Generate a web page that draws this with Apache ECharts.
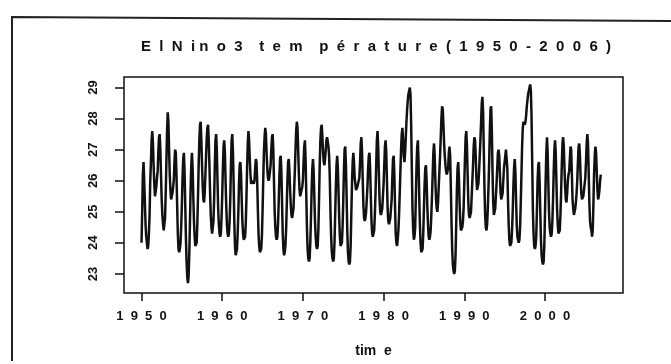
<!DOCTYPE html>
<html>
<head>
<meta charset="utf-8">
<script src="https://cdn.jsdelivr.net/npm/echarts@6/dist/echarts.min.js"></script>
<style>
  html, body { margin: 0; padding: 0; background: #fff; }
  #main { width: 671px; height: 364px; }
</style>
</head>
<body>
<div id="main"></div>
<script>
// monthly El Nino3 temperature, one row per year
var startYear = 1950;
var sst1950s = [
  24.0, 25.0, 26.2, 26.6, 26.0, 25.3, 24.6, 24.2, 24.0, 23.8, 23.9, 24.3,
  24.9, 26.0, 26.6, 27.3, 27.6, 27.2, 26.5, 25.9, 25.5, 25.5, 25.8, 26.1,
  26.3, 26.9, 27.4, 27.5, 27.0, 26.2, 25.4, 24.9, 24.6, 24.4, 24.4, 24.8,
  25.6, 26.6, 27.6, 28.2, 27.9, 27.0, 26.2, 25.7, 25.4, 25.5, 25.6, 25.8,
  26.0, 26.6, 27.0, 26.9, 26.2, 25.2, 24.3, 23.8, 23.7, 23.8, 24.0, 24.5,
  25.2, 26.1, 26.7, 26.9, 26.3, 25.3, 24.2, 23.4, 22.9, 22.7, 22.9, 23.6,
  24.6, 25.7, 26.5, 26.9, 26.4, 25.5, 24.7, 24.2, 23.9, 23.9, 24.0, 24.6,
  25.5, 26.5, 27.3, 27.8, 27.9, 27.3, 26.5, 25.8, 25.4, 25.3, 25.6, 26.2,
  26.8, 27.4, 27.7, 27.8, 27.3, 26.5, 25.6, 24.9, 24.5, 24.3, 24.3, 24.7,
  25.4, 26.5, 27.3, 27.5, 27.0, 26.0, 25.1, 24.6, 24.3, 24.2, 24.3, 24.8
];
var sst1960s = [
  25.5, 26.4, 27.1, 27.3, 26.9, 26.0, 25.2, 24.6, 24.3, 24.2, 24.3, 24.7,
  25.4, 26.5, 27.3, 27.5, 26.9, 25.9, 24.7, 23.9, 23.6, 23.6, 23.8, 24.3,
  25.0, 25.9, 26.5, 26.6, 26.2, 25.4, 24.7, 24.3, 24.1, 24.1, 24.2, 24.6,
  25.4, 26.4, 27.2, 27.6, 27.3, 26.7, 26.2, 25.9, 25.9, 26.0, 26.0, 25.9,
  26.0, 26.4, 26.7, 26.6, 26.0, 25.1, 24.3, 23.9, 23.7, 23.7, 23.8, 24.2,
  25.0, 26.0, 26.9, 27.4, 27.7, 27.5, 26.9, 26.4, 26.1, 26.0, 26.1, 26.3,
  26.5, 27.0, 27.4, 27.5, 27.0, 26.0, 25.0, 24.5, 24.2, 24.1, 24.2, 24.6,
  25.3, 26.1, 26.7, 26.8, 26.3, 25.3, 24.3, 23.8, 23.6, 23.7, 23.9, 24.4,
  25.2, 26.0, 26.6, 26.7, 26.3, 25.7, 25.2, 24.9, 24.8, 24.8, 25.1, 25.7,
  26.3, 27.0, 27.6, 27.9, 27.7, 27.0, 26.2, 25.7, 25.5, 25.6, 25.7, 25.8
];
var sst1970s = [
  26.0, 26.6, 27.1, 27.3, 26.7, 25.6, 24.5, 23.8, 23.5, 23.4, 23.5, 24.0,
  24.8, 25.7, 26.4, 26.7, 26.3, 25.5, 24.7, 24.2, 23.9, 23.8, 23.9, 24.4,
  25.4, 26.5, 27.3, 27.7, 27.8, 27.4, 26.9, 26.6, 26.5, 26.7, 27.0, 27.3,
  27.4, 27.4, 27.1, 26.8, 26.1, 25.0, 24.2, 23.7, 23.5, 23.4, 23.5, 24.0,
  24.9, 25.8, 26.5, 26.8, 26.4, 25.6, 24.8, 24.2, 23.9, 23.9, 24.0, 24.5,
  25.3, 26.3, 27.0, 27.1, 26.5, 25.5, 24.4, 23.7, 23.4, 23.3, 23.4, 23.9,
  24.9, 25.9, 26.6, 26.9, 26.6, 26.1, 25.9, 25.7, 25.7, 25.8, 25.9, 26.0,
  26.1, 26.6, 27.2, 27.4, 26.9, 26.0, 25.2, 24.8, 24.7, 24.8, 25.0, 25.4,
  25.8, 26.4, 26.8, 26.9, 26.4, 25.5, 24.7, 24.3, 24.2, 24.2, 24.4, 24.9,
  25.6, 26.5, 27.3, 27.6, 27.1, 26.2, 25.4, 25.0, 24.9, 24.9, 25.1, 25.5
];
var sst1980s = [
  25.9, 26.5, 27.1, 27.3, 26.9, 26.0, 25.1, 24.7, 24.6, 24.6, 24.8, 25.1,
  25.4, 26.1, 26.7, 26.8, 26.2, 25.2, 24.3, 24.0, 23.9, 24.1, 24.4, 24.9,
  25.6, 26.3, 27.0, 27.5, 27.7, 27.3, 26.8, 26.6, 26.9, 27.4, 27.9, 28.3,
  28.6, 28.8, 28.9, 29.0, 28.8, 27.8, 26.4, 25.1, 24.4, 24.1, 24.2, 24.5,
  25.5, 26.5, 27.1, 27.3, 26.6, 25.5, 24.6, 24.0, 23.7, 23.7, 23.8, 24.3,
  25.1, 25.9, 26.4, 26.5, 26.0, 25.2, 24.6, 24.2, 24.1, 24.2, 24.4, 24.9,
  25.5, 26.2, 26.9, 27.2, 26.8, 26.0, 25.4, 25.1, 25.0, 25.3, 25.8, 26.3,
  26.8, 27.4, 28.0, 28.4, 28.3, 27.8, 27.2, 26.8, 26.5, 26.3, 26.2, 26.2,
  26.4, 26.9, 27.1, 26.8, 25.8, 24.7, 23.8, 23.3, 23.1, 23.0, 23.1, 23.6,
  24.6, 25.7, 26.4, 26.6, 26.1, 25.3, 24.7, 24.4, 24.4, 24.5, 24.7, 25.1
];
var sst1990s = [
  25.9, 26.7, 27.4, 27.6, 27.1, 26.2, 25.3, 24.9, 24.8, 24.8, 25.0, 25.5,
  26.0, 26.5, 27.1, 27.4, 27.3, 26.8, 26.1, 25.7, 25.7, 25.9, 26.3, 26.8,
  27.3, 27.9, 28.5, 28.7, 28.2, 27.0, 25.8, 24.9, 24.5, 24.4, 24.6, 25.1,
  25.8, 26.6, 27.6, 28.3, 28.4, 27.6, 26.3, 25.3, 24.9, 24.9, 25.1, 25.5,
  25.9, 26.4, 26.9, 27.0, 26.8, 26.2, 25.6, 25.4, 25.4, 25.6, 26.0, 26.4,
  26.6, 26.8, 27.0, 27.0, 26.4, 25.4, 24.6, 24.1, 23.9, 23.9, 24.0, 24.4,
  25.0, 25.8, 26.4, 26.7, 26.3, 25.4, 24.6, 24.2, 24.1, 24.0, 24.1, 24.5,
  25.3, 26.2, 27.1, 27.7, 27.9, 27.9, 27.8, 27.9, 28.1, 28.4, 28.6, 28.8,
  28.9, 29.0, 29.1, 28.9, 28.1, 26.6, 25.1, 24.3, 23.9, 23.8, 23.9, 24.2,
  25.0, 26.0, 26.5, 26.6, 26.0, 25.0, 24.1, 23.6, 23.4, 23.3, 23.4, 23.9
];
var sst2000s = [
  24.9, 26.0, 26.9, 27.4, 26.9, 25.9, 25.0, 24.5, 24.3, 24.2, 24.3, 24.7,
  25.4, 26.3, 27.0, 27.3, 26.9, 26.0, 25.1, 24.6, 24.3, 24.3, 24.4, 24.9,
  25.6, 26.5, 27.2, 27.4, 27.1, 26.4, 25.8, 25.4, 25.3, 25.6, 26.0, 26.2,
  26.3, 26.7, 27.1, 27.0, 26.2, 25.4, 25.1, 24.9, 24.9, 25.1, 25.3, 25.6,
  26.0, 26.6, 27.1, 27.2, 26.8, 26.1, 25.6, 25.4, 25.4, 25.5, 25.7, 25.9,
  26.1, 26.6, 27.2, 27.5, 27.2, 26.3, 25.3, 24.7, 24.5, 24.4, 24.2, 24.4,
  25.2, 26.2, 26.8, 27.1, 26.9, 26.3, 25.7, 25.4, 25.5, 25.7, 26.0, 26.2
];
var yearTicks = [1950, 1960, 1970, 1980, 1990, 2000];
var tempTicks = [23, 24, 25, 26, 27, 28, 29];

var sst = [].concat(sst1950s, sst1960s, sst1970s, sst1980s, sst1990s, sst2000s);
var seriesData = [];
for (var i = 0; i < sst.length; i++) {
    seriesData.push([startYear + i / 12, sst[i]]);
}

// spaced letters like the scanned figure
function spaced(s) {
    return String(s).split('').join('  ');
}

var chart = echarts.init(document.getElementById('main'));
var font = '"Liberation Sans", Arial, sans-serif';

var option = {
    backgroundColor: '#fff',
    animation: false,
    grid: {
        left: 124, right: 48, top: 77, bottom: 71,
        show: true, borderColor: '#111', borderWidth: 1.5,
        backgroundColor: 'transparent'
    },
    graphic: [
        {
            type: 'polyline',
            shape: { points: [[12, 361], [12, 17], [671, 21]] },
            style: { stroke: '#222', lineWidth: 2, fill: null }
        },
        {
            type: 'text',
            x: 376, y: 47,
            style: {
                text: 'E  l  N  i n  o  3    t  e  m    p  é  r  a  t  u  r  e  (  1  9  5  0  -  2  0  0  6  )',
                font: 'bold 15px ' + font,
                fill: '#111',
                textAlign: 'center',
                textVerticalAlign: 'middle'
            }
        }
    ],
    xAxis: {
        type: 'value',
        min: 1947.83,
        max: 2009.67,
        name: 'tim  e',
        nameLocation: 'middle',
        nameGap: 51,
        nameTextStyle: { fontFamily: font, fontWeight: 'bold', fontSize: 14, color: '#111' },
        axisLine: { show: false },
        axisTick: {
            show: true, length: 8, customValues: yearTicks,
            lineStyle: { color: '#111', width: 1.5 }
        },
        axisLabel: {
            customValues: yearTicks,
            margin: 17,
            fontFamily: font, fontWeight: 'bold', fontSize: 13, color: '#111',
            formatter: function (v) { return spaced(v); }
        },
        splitLine: { show: false }
    },
    yAxis: {
        type: 'value',
        min: 22.385,
        max: 29.34,
        axisLine: { show: false },
        axisTick: {
            show: true, length: 9, customValues: tempTicks,
            lineStyle: { color: '#111', width: 1.5 }
        },
        axisLabel: {
            customValues: tempTicks,
            rotate: 90,
            margin: 24,
            fontFamily: font, fontWeight: 'bold', fontSize: 13, color: '#111'
        },
        splitLine: { show: false }
    },
    series: [{
        type: 'line',
        data: seriesData,
        showSymbol: false,
        clip: true,
        lineStyle: { color: '#111', width: 2.5 }
    }]
};

chart.setOption(option);
</script>
</body>
</html>
